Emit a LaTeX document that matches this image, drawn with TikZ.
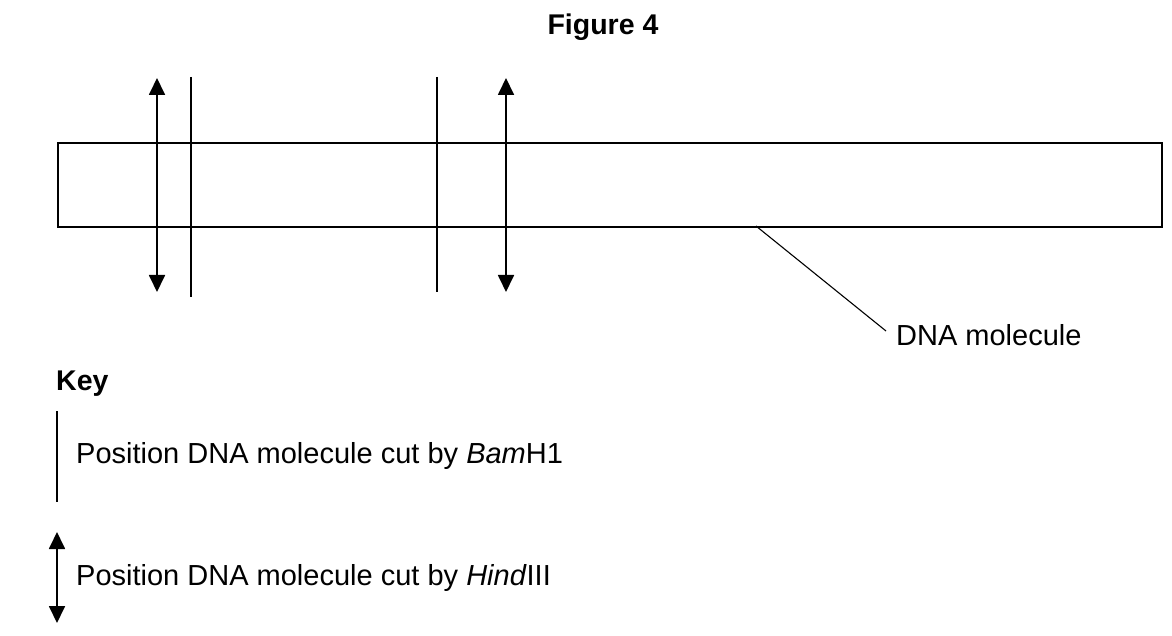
\documentclass[tikz,border=0pt]{standalone}
\usepackage{fontspec}
\setmainfont{Liberation Sans}
\usetikzlibrary{arrows.meta}
\begin{document}
\begin{tikzpicture}[x=1pt,y=-1pt,
  txt/.style={inner sep=0pt,font=\fontsize{29}{34}\selectfont},
  btxt/.style={inner sep=0pt,font=\fontsize{28.5}{34}\selectfont\bfseries},
  cutline/.style={line width=1.8pt},
  hind/.style={line width=1.8pt,{Triangle[length=17pt,width=16pt]}-{Triangle[length=17pt,width=16pt]}},
  leader/.style={line width=1.1pt}]
\useasboundingbox (0,0) rectangle (1172,636);
\node[btxt,anchor=base] (title) at (603,35) {Figure 4};
\node[draw,line width=1.8pt,minimum width=1104pt,minimum height=84pt,inner sep=0pt,anchor=north west] (dna) at (57,142) {};
% HindIII
\coordinate (h1t) at (157,78); \coordinate (h1b) at (157,292);
\coordinate (h2t) at (506,78); \coordinate (h2b) at (506,292);
\draw[hind] (h1t) -- (h1b);
\draw[hind] (h2t) -- (h2b);
% BamH1
\coordinate (b1t) at (191,77); \coordinate (b1b) at (191,297);
\coordinate (b2t) at (437,77); \coordinate (b2b) at (437,292);
\draw[cutline] (b1t) -- (b1b);
\draw[cutline] (b2t) -- (b2b);
% label
\node[txt,anchor=base west] (lab) at (896,345) {DNA molecule};
\coordinate (lp) at (756,226);
\coordinate (le) at (886,331);
\draw[leader] (lp) -- (le);
% key
\node[btxt,anchor=base west] (key) at (56,390) {Key};
\coordinate (k1t) at (57,411); \coordinate (k1b) at (57,502);
\draw[cutline] (k1t) -- (k1b);
\node[txt,anchor=base west] (k1) at (76,463) {Position DNA molecule cut by \textit{Bam}H1};
\coordinate (k2t) at (57,532); \coordinate (k2b) at (57,623);
\draw[hind] (k2t) -- (k2b);
\node[txt,anchor=base west] (k2) at (76,585) {Position DNA molecule cut by \textit{Hind}III};
\end{tikzpicture}
\end{document}
